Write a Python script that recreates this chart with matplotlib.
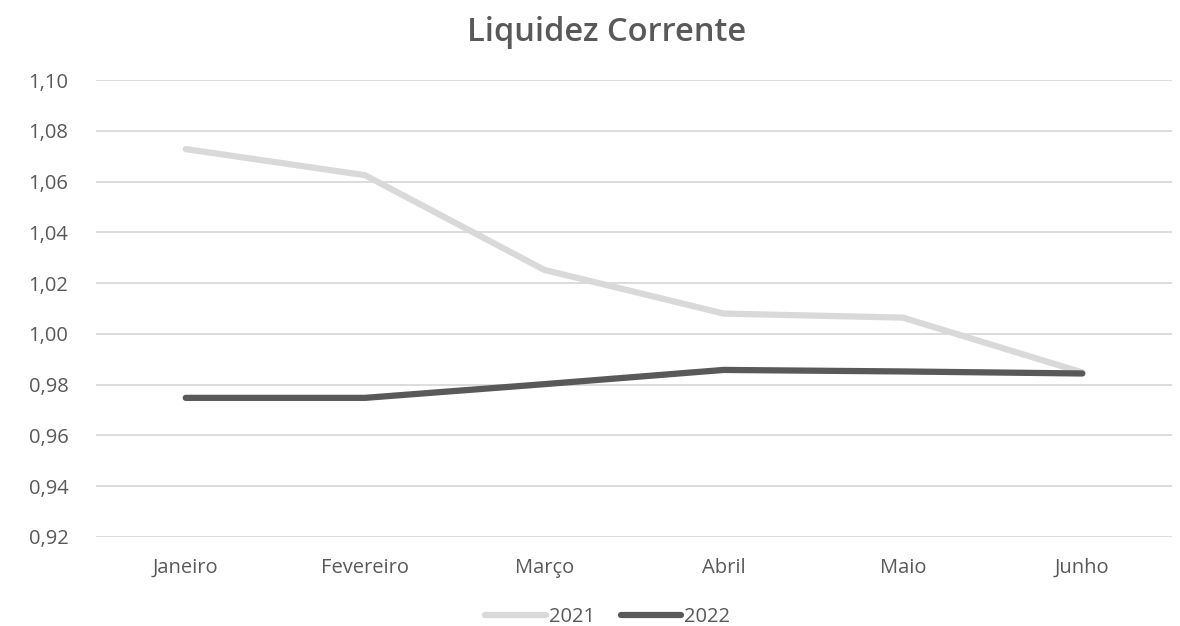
import matplotlib
matplotlib.use("Agg")
import matplotlib.pyplot as plt
from matplotlib.ticker import FuncFormatter, MultipleLocator

months = ["Janeiro", "Fevereiro", "Março", "Abril", "Maio", "Junho"]
liq_2021 = [1.0728, 1.0625, 1.0252, 1.0080, 1.0064, 0.9848]
liq_2022 = [0.9748, 0.9748, 0.9802, 0.9858, 0.9852, 0.9844]

text_col = "#595959"
plt.rcParams["font.family"] = ["Open Sans", "DejaVu Sans"]

fig = plt.figure(figsize=(11.8, 6.26), dpi=100)
ax = fig.add_axes([0.0814, 0.1422, 0.9118, 0.7300])

x = list(range(len(months)))
ax.plot(x, liq_2021, color="#d9d9d9", lw=4.5, solid_capstyle="round", solid_joinstyle="round", label="2021", zorder=3)
ax.plot(x, liq_2022, color="#595959", lw=4.5, solid_capstyle="round", solid_joinstyle="round", label="2022", zorder=4)

ax.set_xlim(-0.5, len(months) - 0.5)
ax.set_ylim(0.92, 1.10)
ax.yaxis.set_major_locator(MultipleLocator(0.02))
ax.yaxis.set_major_formatter(FuncFormatter(lambda v, p: f"{v:.2f}".replace(".", ",")))
ax.set_xticks(x)
ax.set_xticklabels(months)

ax.grid(axis="y", color="#d9d9d9", lw=1.3, zorder=0)
for s in ax.spines.values():
    s.set_visible(False)
ax.tick_params(axis="both", length=0, colors=text_col, labelsize=14.5)
ax.tick_params(axis="x", pad=15)
ax.tick_params(axis="y", pad=20)

fig.suptitle("Liquidez Corrente", x=0.514, y=0.975, fontsize=23.5, color=text_col, fontweight="semibold")

fig.legend(loc="upper center", bbox_to_anchor=(0.515, 0.031), ncol=2, frameon=False,
           fontsize=14.5, labelcolor=text_col, handlelength=3.0, handletextpad=0.15,
           columnspacing=1.3, borderaxespad=0, borderpad=0)

fig.savefig("out.png", dpi=100)
